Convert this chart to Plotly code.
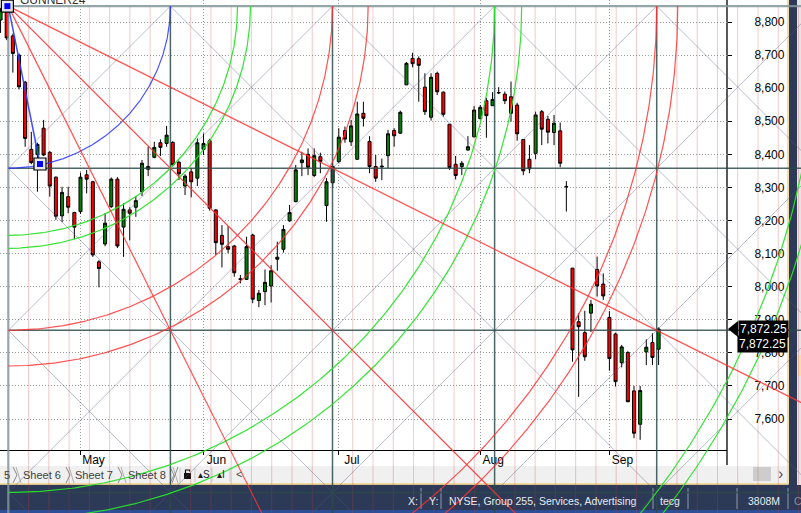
import numpy as np
import plotly.graph_objects as go

# ---------------- data ----------------
bar_index = list(range(108))
open_ = [8806, 8836, 8758, 8700, 8618, 8415, 8399, 8479, 8406, 8331,
         8214, 8272, 8224, 8227, 8338, 8317, 8075, 8129, 8242, 8325,
         8180, 8232, 8240, 8287, 8355, 8391, 8435, 8433, 8436, 8376,
         8304, 8347, 8328, 8415, 8441, 8232, 8155, 8121, 8123, 8024,
         8022, 8156, 7958, 7985, 8002, 8083, 8113, 8199, 8257, 8375,
         8400, 8336, 8393, 8245, 8314, 8378, 8472, 8438, 8385, 8524,
         8439, 8363, 8362, 8396, 8472, 8464, 8610, 8690, 8689, 8603,
         8512, 8645, 8588, 8491, 8370, 8363, 8413, 8453, 8508, 8562,
         8547, 8587, 8582, 8574, 8549, 8445, 8385, 8403, 8529, 8506,
         8466, 8471, 8303, 8056, 7894, 7861, 7920, 8052, 8008, 7907,
         7857, 7770, 7801, 7685, 7584, 7803, 7831, 7811]
high = [8842, 8848, 8765, 8705, 8622, 8468, 8435, 8504, 8410, 8333,
        8302, 8302, 8226, 8345, 8353, 8320, 8080, 8222, 8330, 8331,
        8252, 8240, 8274, 8383, 8423, 8438, 8445, 8486, 8440, 8381,
        8340, 8358, 8448, 8463, 8447, 8234, 8186, 8183, 8126, 8035,
        8151, 8160, 7990, 8052, 8065, 8136, 8186, 8247, 8368, 8408,
        8418, 8418, 8405, 8328, 8373, 8479, 8484, 8504, 8559, 8559,
        8455, 8398, 8387, 8474, 8479, 8532, 8679, 8707, 8696, 8645,
        8645, 8650, 8590, 8491, 8395, 8380, 8455, 8546, 8549, 8571,
        8588, 8603, 8590, 8620, 8556, 8445, 8428, 8529, 8534, 8516,
        8519, 8496, 8319, 8056, 7920, 7927, 7960, 8091, 8040, 7926,
        7861, 7824, 7805, 7700, 7700, 7841, 7859, 7877]
low = [8767, 8745, 8647, 8596, 8423, 8370, 8287, 8395, 8272, 8202,
       8195, 8222, 8143, 8220, 8282, 8090, 7998, 8122, 8238, 8117,
       8090, 8140, 8211, 8274, 8334, 8388, 8395, 8423, 8365, 8322,
       8277, 8270, 8304, 8398, 8230, 8096, 8058, 8101, 8030, 8010,
       8020, 7950, 7938, 7944, 7952, 8048, 8103, 8196, 8255, 8334,
       8337, 8331, 8343, 8196, 8299, 8373, 8435, 8425, 8383, 8484,
       8343, 8317, 8322, 8358, 8423, 8462, 8610, 8663, 8559, 8519,
       8502, 8579, 8514, 8353, 8324, 8337, 8411, 8451, 8505, 8450,
       8547, 8582, 8552, 8499, 8441, 8337, 8343, 8385, 8428, 8433,
       8428, 8361, 8227, 7773, 7667, 7776, 7863, 7970, 7960, 7746,
       7698, 7756, 7652, 7542, 7537, 7763, 7763, 7763]
close = [8836, 8752, 8705, 8604, 8448, 8375, 8430, 8398, 8304, 8213,
         8285, 8240, 8180, 8331, 8325, 8096, 8055, 8192, 8325, 8123,
         8234, 8222, 8260, 8373, 8363, 8421, 8421, 8458, 8368, 8341,
         8334, 8317, 8435, 8433, 8237, 8133, 8128, 8113, 8042, 8022,
         8121, 7962, 7980, 8013, 8048, 8089, 8173, 8224, 8353, 8383,
         8361, 8396, 8378, 8317, 8363, 8452, 8446, 8486, 8522, 8509,
         8363, 8328, 8364, 8462, 8456, 8527, 8675, 8674, 8669, 8529,
         8633, 8589, 8521, 8360, 8336, 8373, 8423, 8534, 8542, 8517,
         8566, 8586, 8562, 8524, 8462, 8350, 8356, 8519, 8476, 8467,
         8494, 8373, 8302, 7809, 7879, 7788, 7947, 8002, 7972, 7783,
         7713, 7818, 7652, 7557, 7686, 7817, 7786, 7872.25]
month_ticks = [13, 33, 55, 78, 99]
month_labels = ["May", "Jun", "Jul", "Aug", "Sep"]

# Gann (GUNNER24) drawing settings, in squares of the box
arc_blue = [1.0]
arc_green = [1.414, 1.494, 3.0, 3.167, 5.0, 5.11]
arc_red = [2.0, 2.22, 4.0, 4.13]
fan_slopes = [0.5, 1.0, 2.0]

# ---------------- geometry ----------------
FW, FH = 801, 513
BAR_PX = 6.15          # pixels per bar
BAR0_PX = 0.55         # pixel x of bar 0
PX_PER_PT = 0.33083    # pixels per index point
PRICE_TOP = 8866.5     # price at pixel row 0
PLOT_R, PLOT_B = 727, 450


def t_at(px):
    return (px - BAR0_PX) / BAR_PX


def p_at(py):
    return PRICE_TOP - py / PX_PER_PT


GANN_T0 = t_at(8.3)
GANN_P0 = high[1]
BOX_PX = 162.1
GANN_DT = BOX_PX / BAR_PX
GANN_DP = BOX_PX / PX_PER_PT
ANCHOR2 = (t_at(40), p_at(164))


def g(u, v):
    return GANN_T0 + u * GANN_DT, GANN_P0 - v * GANN_DP


def seg_trace(segments, color, width):
    xs, ys = [], []
    for seg in segments:
        for (u, v) in seg:
            t, p = g(u, v)
            xs.append(t)
            ys.append(p)
        xs.append(None)
        ys.append(None)
    return go.Scatter(x=xs, y=ys, xaxis="x2", yaxis="y2", mode="lines",
                      line=dict(color=color, width=width),
                      hoverinfo="skip", showlegend=False)


UM, VM = 5.6, 3.6
th = np.linspace(0, np.pi / 2, 240)

fig = go.Figure()
fig.add_trace(go.Candlestick(
    x=bar_index, open=open_, high=high, low=low, close=close,
    increasing=dict(line=dict(color="black", width=1), fillcolor="#008000"),
    decreasing=dict(line=dict(color="black", width=1), fillcolor="#ff0000"),
    whiskerwidth=0, hoverinfo="skip", showlegend=False))

# pink 1/8 time divisions
fig.add_trace(seg_trace([[(k / 8, 0), (k / 8, VM)] for k in range(1, 45) if k % 8],
                        "rgba(200,60,60,0.27)", 1))
# grey diagonals
diag = []
for k in range(-4, 7):
    u0 = max(0, k)
    diag.append([(u0, u0 - k), (u0 + 7, u0 + 7 - k)])
for k in range(1, 11):
    diag.append([(0, k), (k, 0)])
fig.add_trace(seg_trace(diag, "rgba(80,90,125,0.40)", 1))
# box grid
fig.add_trace(seg_trace([[(u, 0), (u, VM)] for u in range(1, 6)] +
                        [[(0, v), (UM, v)] for v in range(1, 4)],
                        "rgba(45,75,75,0.85)", 1.5))
fig.add_trace(seg_trace([[(0, 0), (0, VM)], [(0, 0), (UM, 0)]],
                        "rgba(130,150,155,0.85)", 2.2))
# arcs
for radii, col in ((arc_green, "rgba(40,225,40,0.95)"),
                   (arc_red, "rgba(255,50,50,0.85)"),
                   (arc_blue, "rgba(40,50,255,0.85)")):
    fig.add_trace(seg_trace([list(zip(r * np.cos(th), r * np.sin(th))) for r in radii],
                            col, 1.2))
# fan
fig.add_trace(seg_trace([[(0, 0), (7, 7 * m)] for m in fan_slopes],
                        "rgba(255,50,50,0.85)", 1.2))
# anchor line + squares
fig.add_trace(go.Scatter(x=[GANN_T0, ANCHOR2[0]], y=[GANN_P0, ANCHOR2[1]],
                         xaxis="x2", yaxis="y2", mode="lines",
                         line=dict(color="rgba(40,60,255,0.9)", width=1.5),
                         hoverinfo="skip", showlegend=False))
for size, col, lw in ((12, "#e8e8e8", 1.2), (6, "#0000ff", 0)):
    fig.add_trace(go.Scatter(x=[GANN_T0 - 0.15, ANCHOR2[0]], y=[GANN_P0, ANCHOR2[1]],
                             xaxis="x2", yaxis="y2", mode="markers",
                             marker=dict(symbol="square", size=size, color=col,
                                         line=dict(color="black", width=lw)),
                             hoverinfo="skip", showlegend=False))


def X(px):
    return px / FW


def Y(py):
    return 1 - py / FH


shapes = []


def rect(x0, y0, x1, y1, color, layer="below"):
    shapes.append(dict(type="rect", xref="paper", yref="paper",
                       x0=X(x0), x1=X(x1), y0=Y(y1), y1=Y(y0),
                       fillcolor=color, line=dict(width=0), layer=layer))


def line(x0, y0, x1, y1, color, width=1, layer="below"):
    shapes.append(dict(type="line", xref="paper", yref="paper",
                       x0=X(x0), x1=X(x1), y0=Y(y0), y1=Y(y1),
                       line=dict(color=color, width=width), layer=layer))


# tab bar + status bar + frame
rect(0, 466, 788, 483.5, "#f0f0f0")
rect(0, 484.5, FW, FH, "#2c3a57")
rect(0, 510, FW, FH, "#2d4f98")
line(0, 484, 788, 484, "#f2cf86", 1.5)
line(788, 0, 788, 484, "#f2cf86", 1.5)
rect(789, 0, 797, 485, "#2c3a57")
rect(797, 0, FW, 485, "#e4e4e4")
rect(797, 355, FW, 376, "#f6ddb0")
line(PLOT_R, 0, PLOT_R, 465, "black", 1.3)
for xs in (13, 66, 118, 170):
    shapes.append(dict(type="path", xref="paper", yref="paper",
                       path=f"M {X(xs)},{Y(467)} L {X(xs + 4)},{Y(475)} L {X(xs)},{Y(483)}",
                       line=dict(color="#8a8a8a", width=1), layer="below"))
    line(xs + 3, 467, xs + 8, 483, "#b0b0b0", 1)
line(172, 483, 178, 467, "#8a8a8a", 1)
for xs in (180, 195, 212, 230):
    line(xs, 468, xs, 482, "#c8c8c8", 1)
rect(184, 473, 191, 479, "#101010")
shapes.append(dict(type="path", xref="paper", yref="paper",
                   path=f"M {X(185.5)},{Y(473)} L {X(185.5)},{Y(470)} L {X(189.5)},{Y(470)} L {X(189.5)},{Y(471.5)}",
                   line=dict(color="#101010", width=1.2), layer="below"))
rect(753, 467, 771, 481, "#cdcdcd")
for xs in (421, 441, 653, 688, 737, 788):
    line(xs, 488, xs, 509, "#8d99b0", 1)

# last price marker arrow
shapes.append(dict(type="path", xref="paper", yref="y2", xsizemode="pixel",
                   ysizemode="pixel", xanchor=X(738), yanchor=close[-1],
                   path="M -10,0 L 0,8 L 0,-8 Z", fillcolor="black",
                   line=dict(width=0), layer="above"))

font = "Liberation Sans, Arial, sans-serif"
ann = []


def text(px, py, s, size=12, color="#000", xanchor="left", **kw):
    ann.append(dict(x=X(px), y=Y(py), xref="paper", yref="paper", text=s,
                    showarrow=False, xanchor=xanchor, yanchor="middle",
                    font=dict(family=font, size=size, color=color), **kw))


last_txt = f"{close[-1]:,.2f}"
ann.append(dict(x=X(763), y=close[-1], xref="paper", yref="y2", text=last_txt,
                showarrow=False, xanchor="center", yanchor="middle", bgcolor="black",
                borderpad=1, font=dict(family=font, size=12, color="white")))
ann.append(dict(x=X(762), y=close[-1], xref="paper", yref="y2", text=last_txt,
                showarrow=False, xanchor="center", yanchor="middle", bgcolor="black",
                borderpad=1, yshift=-15, font=dict(family=font, size=12, color="white")))

text(18, 0, "GUNNER24", 12, "#303030")
text(2, 474.5, "5", 11, "#404040")
text(42, 474.5, "Sheet 6", 11, "#404040", xanchor="center")
text(94, 474.5, "Sheet 7", 11, "#404040", xanchor="center")
text(147, 474.5, "Sheet 8", 11, "#404040", xanchor="center")
text(203.5, 474.5, "▴S", 10, "#202020", xanchor="center")
text(221, 474.5, "▴I", 10, "#202020", xanchor="center")
text(239, 474, "<", 11, "#505050", xanchor="center")
text(780, 473.5, "›", 16, "#555555", xanchor="center")
sb = "#e6e9ef"
text(406, 501, "X:", 10.5, sb)
text(427, 501, "Y:", 10.5, sb)
text(447, 501, "NYSE, Group 255, Services, Advertising", 10.5, sb)
text(658, 501, "tecg", 10.5, sb)
text(746, 501, "3808M", 10.5, sb)
text(792, 501, "C", 10.5, "#8890a0")

tickfont = dict(family=font, size=12, color="black")
fig.update_layout(
    width=FW, height=FH, margin=dict(l=0, r=0, t=0, b=0),
    paper_bgcolor="white", plot_bgcolor="rgba(0,0,0,0)",
    showlegend=False, shapes=shapes, annotations=ann,
    xaxis=dict(domain=[0, X(PLOT_R)], range=[t_at(0), t_at(PLOT_R)],
               tickvals=month_ticks, ticktext=month_labels, ticks="outside",
               ticklen=4, tickcolor="black", showline=True, linecolor="black",
               linewidth=1, showgrid=True, gridcolor="#9a9a9a", griddash="1px,2px",
               zeroline=False, rangeslider=dict(visible=False), tickfont=tickfont,
               ticklabelshift=13, ticklabelstandoff=-5, fixedrange=True),
    yaxis=dict(domain=[Y(PLOT_B), 1], range=[p_at(PLOT_B), p_at(0)], side="right",
               dtick=100, tickformat=",", ticks="outside", ticklen=4,
               tickcolor="black", showline=False, showgrid=True,
               gridcolor="#9a9a9a", griddash="1px,2px", zeroline=False,
               tickfont=tickfont, ticklabelstandoff=20, fixedrange=True),
    xaxis2=dict(domain=[0, 1], anchor="y2", range=[t_at(0), t_at(FW)],
                visible=False, fixedrange=True),
    yaxis2=dict(domain=[0, 1], anchor="x2", range=[p_at(FH), p_at(0)],
                visible=False, fixedrange=True),
)

fig.write_html("out.html", config={"displayModeBar": False},
               post_script="document.body.style.margin='0px';"
                           "document.body.style.overflow='hidden';")
